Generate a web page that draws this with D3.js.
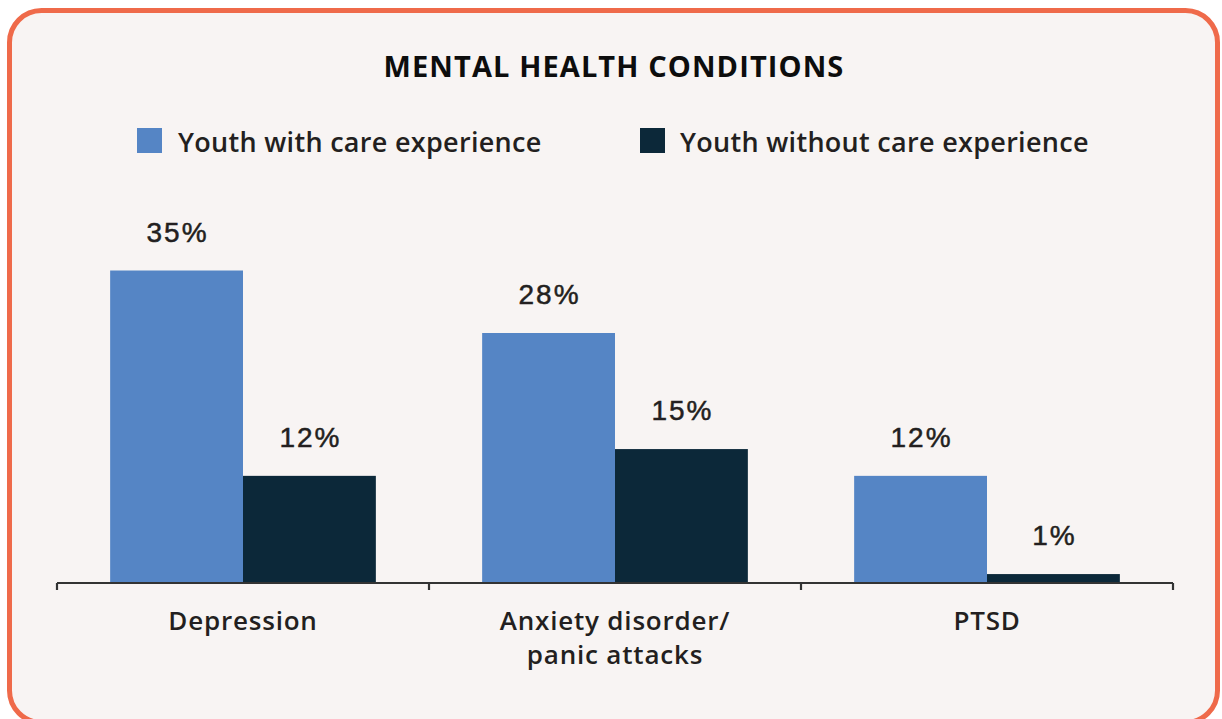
<!DOCTYPE html>
<html><head><meta charset="utf-8">
<script src="https://cdn.jsdelivr.net/npm/d3@7"></script>
<style>
html,body{margin:0;padding:0;background:#fff;}
svg{display:block;}
</style></head>
<body>
<svg id="chart" width="1222" height="719"></svg>
<script>
const title = "MENTAL HEALTH CONDITIONS";
const categories = ["Depression", "Anxiety disorder/\npanic attacks", "PTSD"];
const seriesNames = ["Youth with care experience", "Youth without care experience"];
const withCare = [35, 28, 12];
const withoutCare = [12, 15, 1];
const colors = ["#5585C5", "#0C2839"];

const svg = d3.select("#chart");

// card
svg.append("rect").attr("x", 9.5).attr("y", 10.5).attr("width", 1208).attr("height", 712)
  .attr("rx", 32).attr("ry", 32)
  .attr("fill", "#F8F4F3").attr("stroke", "#EF6A4A").attr("stroke-width", 5);

// title
svg.append("text").attr("x", 614).attr("y", 77).attr("text-anchor", "middle")
  .attr("font-family", "'Open Sans', sans-serif").attr("font-weight", 700)
  .attr("font-size", 29).attr("letter-spacing", 1.1).attr("fill", "#0d0d0d").text(title);

// legend
const legendX = [137, 640];
seriesNames.forEach((n, i) => {
  const g = svg.append("g").attr("transform", `translate(${legendX[i]},128)`);
  g.append("rect").attr("width", 25).attr("height", 25).attr("fill", colors[i]);
  g.append("text").attr("x", i === 0 ? 41 : 40).attr("y", 24)
    .attr("font-family", "'Open Sans', sans-serif").attr("font-weight", 600)
    .attr("font-size", 27).attr("letter-spacing", 0.3).attr("fill", "#231F20").text(n);
});

// scales
const x0 = d3.scaleBand().domain(categories).range([57, 1173]).paddingInner(0).paddingOuter(0);
const x1 = d3.scaleBand().domain([0, 1]).range([0, x0.bandwidth()]).paddingOuter(0.4).paddingInner(0);
const y = d3.scaleLinear().domain([0, 35]).range([583, 270.5]);

const data = categories.map((c, i) => ({ cat: c, vals: [withCare[i], withoutCare[i]] }));

const groups = svg.append("g").selectAll("g").data(data).join("g")
  .attr("transform", d => `translate(${x0(d.cat)},0)`);

groups.selectAll("rect").data(d => d.vals.map((v, k) => ({ v, k }))).join("rect")
  .attr("x", d => x1(d.k)).attr("width", x1.bandwidth())
  .attr("y", d => y(d.v)).attr("height", d => y(0) - y(d.v))
  .attr("fill", d => colors[d.k]);

groups.selectAll("text.val").data(d => d.vals.map((v, k) => ({ v, k }))).join("text")
  .attr("class", "val")
  .attr("x", d => x1(d.k) + x1.bandwidth() / 2 + 1).attr("y", d => y(d.v) - 29)
  .attr("text-anchor", "middle")
  .attr("font-family", "'Liberation Sans', Arial, sans-serif").attr("font-size", 28)
  .attr("letter-spacing", 2).attr("fill", "#231F20")
  .attr("stroke", "#231F20").attr("stroke-width", 0.5)
  .text(d => d.v + "%");

// axis
const axis = d3.axisBottom(x0).tickSize(0).tickFormat("");
const ax = svg.append("g").attr("transform", "translate(0,583)").call(axis);
ax.select(".domain").remove();
ax.append("line").attr("x1", 57).attr("x2", 1173).attr("y1", 0).attr("y2", 0)
  .attr("stroke", "#333").attr("stroke-width", 2.2);
const bounds = [...categories.map(c => x0(c)), x0.range()[1]];
ax.selectAll("line.tk").data(bounds).join("line").attr("class", "tk")
  .attr("x1", d => d).attr("x2", d => d).attr("y1", 0).attr("y2", 7)
  .attr("stroke", "#333").attr("stroke-width", 2.2);

// category labels
svg.append("g").selectAll("text").data(categories).join("text")
  .attr("x", d => x0(d) + x0.bandwidth() / 2).attr("y", 630)
  .attr("text-anchor", "middle")
  .attr("font-family", "'Open Sans', sans-serif").attr("font-weight", 600)
  .attr("font-size", 26).attr("letter-spacing", 0.8).attr("fill", "#231F20")
  .each(function (d) {
    const lines = d.split("\n");
    d3.select(this).selectAll("tspan").data(lines).join("tspan")
      .attr("x", x0(d) + x0.bandwidth() / 2).attr("dy", (l, i) => i === 0 ? 0 : 34).text(l => l);
  });
</script>
</body></html>
